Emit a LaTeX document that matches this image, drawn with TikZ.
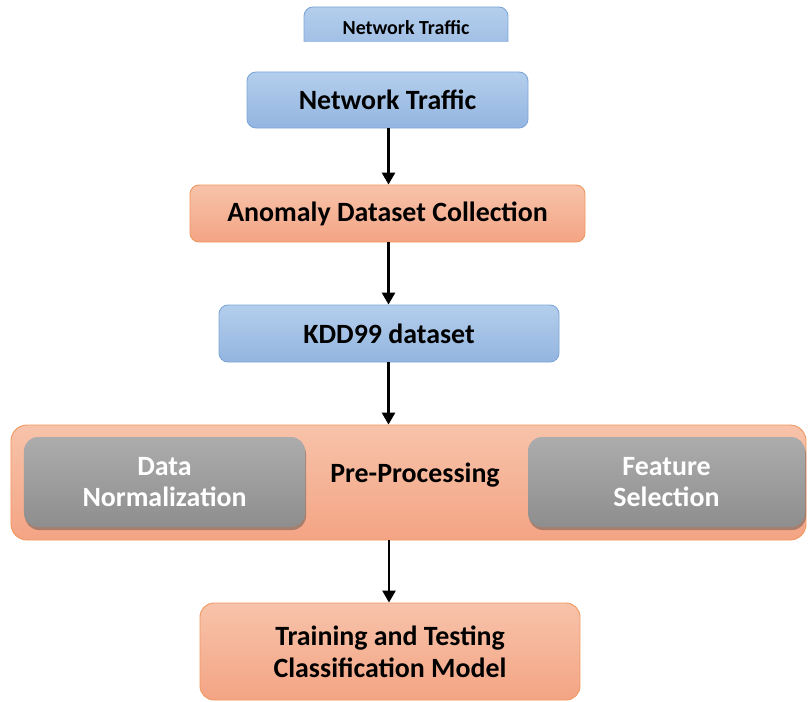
\documentclass[tikz,border=0pt]{standalone}
\usepackage{fontspec}
\setmainfont{Carlito}
\usetikzlibrary{arrows.meta,shadows}

\definecolor{bluetop}{HTML}{B4CEEC}
\definecolor{bluebot}{HTML}{93B5E0}
\definecolor{blueline}{HTML}{7EA6D8}
\definecolor{orgtop}{HTML}{F7C3AA}
\definecolor{orgbot}{HTML}{F4A484}
\definecolor{orgline}{HTML}{F0975F}
\definecolor{graytop}{HTML}{ACACAC}
\definecolor{graybot}{HTML}{8E8E8E}

\tikzset{
  labelfont/.style={font=\bfseries\fontsize{28}{32}\selectfont},
  box/.style={rounded corners=9bp, line width=0.9bp, inner sep=0pt,
    align=center, labelfont},
  bluebox/.style={box, draw=blueline, top color=bluetop, bottom color=bluebot},
  orangebox/.style={box, draw=orgline, top color=orgtop, bottom color=orgbot},
  graybox/.style={box, draw=none, top color=graytop, bottom color=graybot,
    text=white, rounded corners=14bp,
    drop shadow={shadow xshift=1bp, shadow yshift=-3bp, opacity=0.45, fill=black!70}},
  flow/.style={line width=2.6bp, -{Triangle[length=12bp,width=13bp]}},
}

\begin{document}
\begin{tikzpicture}[x=1bp,y=-1bp]
  \useasboundingbox (0,0) rectangle (808,702);

  % header box, cut off at its lower edge
  \begin{scope}
    \clip (0,0) rectangle (808,42);
    \node[bluebox, minimum width=204bp, minimum height=64bp] (head) at (406,39) {};
  \end{scope}
  \node[font=\bfseries\fontsize{20}{24}\selectfont] (headtext) at (406,28) {Network Traffic};

  % main flow
  \node[bluebox, minimum width=281bp, minimum height=56bp] (traffic) at (387.5,100) {Network Traffic};
  \node[orangebox, minimum width=395bp, minimum height=57bp] (anomaly) at (387.5,213.5) {Anomaly Dataset Collection};
  \node[bluebox, minimum width=340bp, minimum height=57bp] (kdd) at (389,333.5) {KDD99 dataset};

  % pre-processing stage with its two sub-steps
  \node[orangebox, rounded corners=16bp, minimum width=795bp, minimum height=115bp] (pre) at (408.5,482.5) {};
  \node[labelfont] (pretext) at (415,475) {Pre-Processing};
  \node[graybox, minimum width=281bp, minimum height=90bp] (norm) at (164.5,482) {Data\\Normalization};
  \node[graybox, minimum width=277bp, minimum height=90bp] (feat) at (666.5,482) {Feature\\Selection};

  \node[orangebox, rounded corners=14bp, minimum width=380bp, minimum height=97bp] (train) at (390,651.5) {Training and Testing\\Classification Model};

  % connectors
  \draw[flow] (traffic.south -| 388.5,0) -- (anomaly.north -| 388.5,0);
  \draw[flow] (anomaly.south -| 388.5,0) -- (kdd.north -| 388.5,0);
  \draw[flow] (kdd.south -| 388.5,0) -- (pre.north -| 388.5,0);
  \draw[flow] (pre.south -| 389,0) -- (train.north -| 389,0);
\end{tikzpicture}
\end{document}
